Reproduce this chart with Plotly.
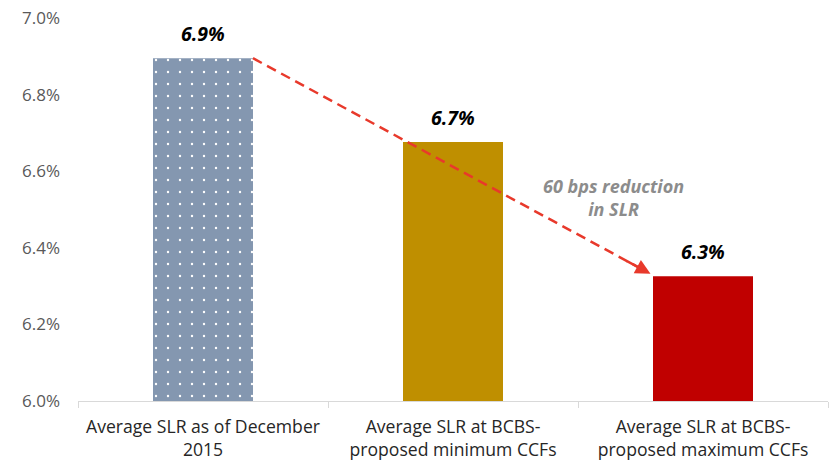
import plotly.graph_objects as go

# Data
categories = [
    "Average SLR as of December<br>2015",
    "Average SLR at BCBS-<br>proposed minimum CCFs",
    "Average SLR at BCBS-<br>proposed maximum CCFs",
]
slr_values = [6.895, 6.676, 6.326]
bar_colors = ["#8497B0", "#BF8F00", "#C00000"]
bar_patterns = [".", "", ""]
y_ticks = [6.0, 6.2, 6.4, 6.6, 6.8, 7.0]
note_text = "60 bps reduction<br>in SLR"

x_pos = list(range(len(categories)))
bar_width = 0.4
FONT = "Open Sans, Noto Sans, sans-serif"

fig = go.Figure()

# one trace per bar so each can carry its own fill pattern
for xi, v, col, pat in zip(x_pos, slr_values, bar_colors, bar_patterns):
    marker = dict(color=col, line=dict(width=0))
    if pat:
        marker["pattern"] = dict(
            shape=pat, fgcolor="#FFFFFF", fgopacity=1,
            size=12, solidity=0.03, fillmode="overlay",
        )
    fig.add_trace(go.Bar(
        x=[xi], y=[v - 6.0], base=6.0, width=bar_width,
        marker=marker, hoverinfo="skip", showlegend=False,
    ))

# value labels above each bar
for xi, v in zip(x_pos, slr_values):
    fig.add_annotation(
        x=xi, y=v, text=f"<b><i>{v:.1f}%</i></b>",
        showarrow=False, yanchor="bottom", yshift=9,
        font=dict(family=FONT, size=19.5, color="#000000"),
    )

# dashed arrow from the first bar down to the last
x0 = x_pos[0] + bar_width / 2
x1 = x_pos[2] - bar_width / 2 - 0.01
y0 = slr_values[0]
y1 = slr_values[2] + 0.006
fig.add_trace(go.Scatter(
    x=[x0, x1 - 0.03], y=[y0, y1 + (y0 - y1) * 0.03 / (x1 - x0)],
    mode="lines",
    line=dict(color="#E8392B", width=2.5, dash="10px,6px"),
    hoverinfo="skip", showlegend=False,
))
fig.add_annotation(
    x=x1, y=y1, ax=x1 - 0.1, ay=y1 + (y0 - y1) * 0.1 / (x1 - x0),
    xref="x", yref="y", axref="x", ayref="y",
    text="", showarrow=True, arrowhead=2, arrowsize=1.2, arrowwidth=2.5,
    arrowcolor="#E8392B", standoff=0,
)

fig.add_annotation(
    x=1.643, y=6.532, text=f"<b><i>{note_text}</i></b>",
    showarrow=False, align="center",
    font=dict(family=FONT, size=18, color="#8C8C8C"),
)

fig.update_layout(
    width=831, height=463,
    margin=dict(l=78, r=3, t=18, b=62),
    paper_bgcolor="#FFFFFF",
    plot_bgcolor="#FFFFFF",
    font=dict(family=FONT),
    xaxis=dict(
        range=[-0.5, 2.5],
        tickvals=x_pos,
        ticktext=categories,
        ticks="",
        ticklabelstandoff=10,
        automargin=False,
        showgrid=False,
        zeroline=False,
        showline=True,
        linecolor="#D9D9D9",
        linewidth=1,
        tickfont=dict(size=17.6, color="#262626"),
        minor=dict(tickvals=[-0.5, 0.5, 1.5, 2.5], ticks="outside", ticklen=6,
                   tickcolor="#D9D9D9", showgrid=False),
    ),
    yaxis=dict(
        range=[6.0, 7.0],
        tickvals=y_ticks,
        ticktext=[f"{t:.1f}%" for t in y_ticks],
        automargin=False,
        showgrid=False,
        zeroline=False,
        showline=False,
        ticks="",
        ticklabelstandoff=17,
        tickfont=dict(size=17, color="#595959"),
    ),
)

fig.write_html("out.html")
